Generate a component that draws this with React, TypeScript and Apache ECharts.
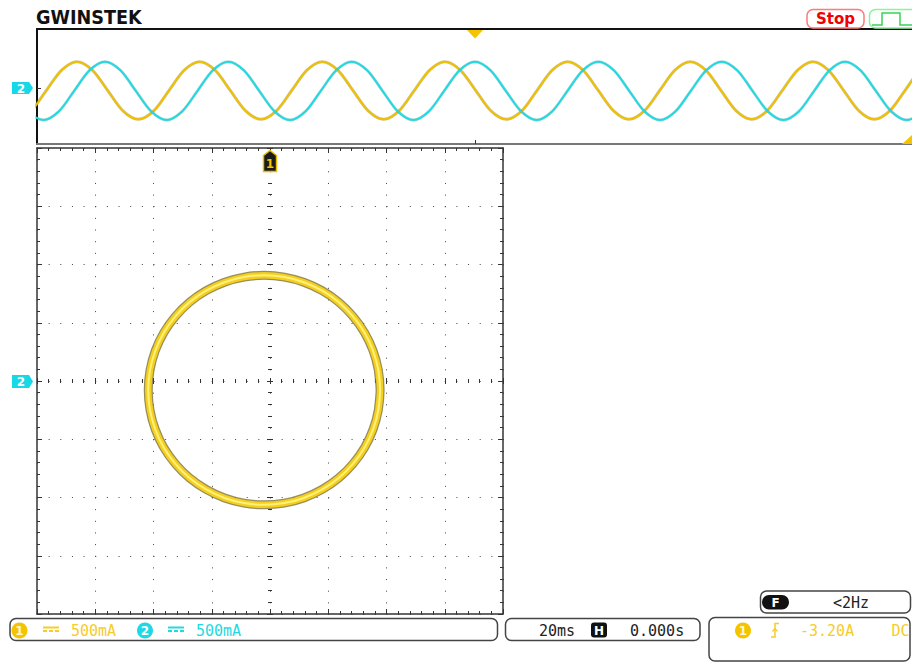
import React, { useEffect, useRef } from "react";
import * as echarts from "echarts";

// ---- Overview window (top strip): [position across window, level] ----
const ch1Overview: [number, number][] = [
  [-21.3, -31.3], [-6.0, -22.9], [9.3, -2.5], [24.7, 17.9], [40.0, 26.3], [55.3, 17.9], [70.7, -2.5], [86.0, -22.9],
  [101.3, -31.3], [116.7, -22.9], [132.0, -2.5], [147.3, 17.9], [162.7, 26.3], [178.0, 17.9], [193.3, -2.5], [208.7, -22.9],
  [224.0, -31.3], [239.3, -22.9], [254.7, -2.5], [270.0, 17.9], [285.3, 26.3], [300.7, 17.9], [316.0, -2.5], [331.3, -22.9],
  [346.7, -31.3], [362.0, -22.9], [377.3, -2.5], [392.7, 17.9], [408.0, 26.3], [423.3, 17.9], [438.7, -2.5], [454.0, -22.9],
  [469.3, -31.3], [484.7, -22.9], [500.0, -2.5], [515.3, 17.9], [530.7, 26.3], [546.0, 17.9], [561.3, -2.5], [576.7, -22.9],
  [592.0, -31.3], [607.3, -22.9], [622.7, -2.5], [638.0, 17.9], [653.3, 26.3], [668.7, 17.9], [684.0, -2.5], [699.3, -22.9],
  [714.7, -31.3], [730.0, -22.9], [745.3, -2.5], [760.7, 17.9], [776.0, 26.3], [791.3, 17.9], [806.7, -2.5], [822.0, -22.9],
  [837.3, -31.3], [852.7, -22.9], [868.0, -2.5], [883.3, 17.9], [898.7, 26.3],
];
const ch2Overview: [number, number][] = [
  [-55.3, 26.3], [-39.9, 17.75], [-24.5, -2.85], [-9.1, -23.45], [6.3, -32], [21.8, -23.45], [37.2, -2.85], [52.6, 17.75],
  [68.0, 26.3], [83.4, 17.75], [98.8, -2.85], [114.3, -23.45], [129.7, -32], [145.1, -23.45], [160.5, -2.85], [175.9, 17.75],
  [191.3, 26.3], [206.8, 17.75], [222.2, -2.85], [237.6, -23.45], [253.0, -32], [268.4, -23.45], [283.8, -2.85], [299.3, 17.75],
  [314.7, 26.3], [330.1, 17.75], [345.5, -2.85], [360.9, -23.45], [376.3, -32], [391.8, -23.45], [407.2, -2.85], [422.6, 17.75],
  [438.0, 26.3], [453.4, 17.75], [468.8, -2.85], [484.3, -23.45], [499.7, -32], [515.1, -23.45], [530.5, -2.85], [545.9, 17.75],
  [561.3, 26.3], [576.8, 17.75], [592.2, -2.85], [607.6, -23.45], [623.0, -32], [638.4, -23.45], [653.8, -2.85], [669.3, 17.75],
  [684.7, 26.3], [700.1, 17.75], [715.5, -2.85], [730.9, -23.45], [746.3, -32], [761.8, -23.45], [777.2, -2.85], [792.6, 17.75],
  [808.0, 26.3], [823.4, 17.75], [838.8, -2.85], [854.3, -23.45], [869.7, -32], [885.1, -23.45], [900.5, -2.85],
];

// ---- XY display: CH1 current (X, A) vs CH2 current (Y, A), traced around the loop ----
const xyCh1Amps = [
  0.93, 0.945, 0.93, 0.885, 0.812, 0.712, 0.59, 0.448, 0.29, 0.123, -0.05, -0.223, -0.39, -0.548, -0.69, -0.812,
  -0.912, -0.985, -1.03, -1.045, -1.03, -0.985, -0.912, -0.812, -0.69, -0.548, -0.39, -0.223, -0.05, 0.123, 0.29,
  0.448, 0.59, 0.712, 0.812, 0.885, 0.93, 0.945, 0.93,
];
const xyCh2Amps = [
  -0.249, -0.078, 0.093, 0.259, 0.415, 0.555, 0.677, 0.775, 0.848, 0.892, 0.907, 0.892, 0.848, 0.775, 0.677, 0.555,
  0.415, 0.259, 0.093, -0.078, -0.249, -0.415, -0.571, -0.711, -0.833, -0.931, -1.004, -1.048, -1.063, -1.048, -1.004,
  -0.931, -0.833, -0.711, -0.571, -0.415, -0.249, -0.078, 0.093,
];

// ---- status texts ----
const ch1Scale = "500mA";
const ch2Scale = "500mA";
const timeBase = "20ms";
const hPosition = "0.000s";
const trigLevel = "-3.20A";
const trigCoupling = "DC";
const freqText = "<2Hz";

const YELLOW = "#eec000";
const YELLOW_TXT = "#f7cc2a";
const CYAN = "#1fdae3";
const MONO = '"DejaVu Sans Mono", monospace';
const SANS = '"DejaVu Sans", sans-serif';

function txt(text: string, x: number, y: number, fill: string, font: string, align = "left", scaleX = 1) {
  return { type: "text", x, y, scaleX, z: 20, silent: true, style: { text, fill, font, align, verticalAlign: "middle" } };
}
function rrect(x: number, y: number, w: number, h: number, r: number, stroke: string, fill = "none", lw = 1.5) {
  return { type: "rect", z: 18, silent: true, shape: { x, y, width: w, height: h, r }, style: { fill, stroke, lineWidth: lw } };
}
function dot(cx: number, cy: number, r: number, fill: string) {
  return { type: "circle", z: 19, silent: true, shape: { cx, cy, r }, style: { fill } };
}
function poly(points: number[][], fill: string, stroke = "none", lw = 0) {
  return { type: "polygon", z: 19, silent: true, shape: { points }, style: { fill, stroke, lineWidth: lw } };
}
function pline(points: number[][], stroke: string, lw = 1.5) {
  return { type: "polyline", z: 19, silent: true, shape: { points }, style: { stroke, lineWidth: lw, fill: "none" } };
}
function dcSymbol(x: number, y: number, color: string) {
  return [
    { type: "rect", z: 19, silent: true, shape: { x, y, width: 16, height: 2 }, style: { fill: color } },
    { type: "rect", z: 19, silent: true, shape: { x, y: y + 3.5, width: 4, height: 2 }, style: { fill: color } },
    { type: "rect", z: 19, silent: true, shape: { x: x + 6, y: y + 3.5, width: 4, height: 2 }, style: { fill: color } },
    { type: "rect", z: 19, silent: true, shape: { x: x + 12, y: y + 3.5, width: 4, height: 2 }, style: { fill: color } },
  ];
}

const FRAME = "#353535";

function xyFrameAxis(position: string, withSplit: boolean) {
  return {
    gridIndex: 1, type: "value", min: -2, max: 2, interval: 0.5, position,
    axisLine: { show: true, onZero: false, lineStyle: { color: FRAME, width: 1.5 } },
    axisTick: { show: true, inside: true, length: 5, lineStyle: { color: FRAME } },
    minorTick: { show: true, splitNumber: 5, length: 3, lineStyle: { color: FRAME } },
    axisLabel: { show: false },
    splitLine: withSplit ? { show: true, lineStyle: { color: "#444", width: 1, type: [1, 10.65] } } : { show: false },
  };
}
function centerAxis(kind: "x" | "y", inside: boolean, otherIndex: number) {
  return {
    gridIndex: 1, type: "value", min: -2, max: 2, interval: 0.5,
    position: kind === "x" ? "bottom" : "left",
    axisLine: { show: true, onZero: true, onZeroAxisIndex: otherIndex, lineStyle: { color: "rgba(0,0,0,0)", width: 0 } },
    axisTick: { show: true, inside, length: 3, lineStyle: { color: "#333" } },
    minorTick: { show: true, splitNumber: 5, length: 2, lineStyle: { color: "#333" } },
    axisLabel: { show: false },
    splitLine: { show: false },
  };
}

export default function App() {
  const ref = useRef<HTMLDivElement>(null);
  useEffect(() => {
    if (!ref.current) return;
    const chart = echarts.init(ref.current, null, { renderer: "svg" });
    const xyData = xyCh1Amps.map((v, i) => [v, xyCh2Amps[i]]);

    const graphics: any[] = [
      // logo
      txt("GWINSTEK", 36, 17, "#111", `bold 19px ${SANS}`, "left", 0.93),
      // Stop
      rrect(807, 9.5, 57, 18.5, 6, "#ff7a7a", "#fff", 1.5),
      txt("Stop", 835.5, 18.5, "#f00000", `bold 15px ${SANS}`, "center"),
      // trigger status box
      rrect(869.5, 9.5, 52, 18.5, 6, "#8cf29c", "#fff", 1.5),
      pline([[872, 25], [882, 25], [882, 13], [900, 13], [900, 25], [912, 25]], "#39d457", 1.5),
      // overview markers
      poly([[467, 30], [483, 30], [475, 38.5]], "#f5c400"),
      poly([[902, 144], [912, 135], [912, 144]], "#f5c400"),
      poly([[12, 82], [29, 82], [33, 88], [29, 94], [12, 94]], "#17d8e6"),
      txt("2", 21, 88.5, "#fff", `bold 12px ${SANS}`, "center"),
      // XY markers
      poly([[12, 375], [29, 375], [33, 381.5], [29, 388], [12, 388]], "#17d8e6"),
      txt("2", 21, 382, "#fff", `bold 12px ${SANS}`, "center"),
      poly([[263.5, 155.5], [270, 150.5], [276.5, 155.5], [276.5, 171.5], [263.5, 171.5]], "#1b1b1b", "#e8bc00", 1.5),
      txt("1", 270, 163.5, "#f5c400", `bold 12px ${SANS}`, "center"),
      // bottom bar 1: channel scales
      rrect(10, 618.5, 487.5, 22, 6, "#444"),
      dot(19.5, 630.5, 8, "#f5c400"),
      txt("1", 19.5, 631, "#fff6cf", `bold 12px ${SANS}`, "center"),
      ...dcSymbol(43, 626.5, YELLOW_TXT),
      txt(ch1Scale, 71, 631, YELLOW_TXT, `15px ${MONO}`),
      dot(145, 630.5, 8, "#1fd8e6"),
      txt("2", 145, 631, "#ffffff", `bold 12px ${SANS}`, "center"),
      ...dcSymbol(168, 626.5, CYAN),
      txt(ch2Scale, 196, 631, CYAN, `15px ${MONO}`),
      // bottom bar 2: timebase
      rrect(505.5, 618.5, 194.5, 22, 6, "#444"),
      txt(timeBase, 539, 631, "#222", `15px ${MONO}`),
      rrect(591, 622.5, 16, 15, 3, "none", "#111", 0),
      txt("H", 599, 630.5, "#fff", `bold 12px ${SANS}`, "center"),
      txt(hPosition, 630, 631, "#222", `15px ${MONO}`),
      // frequency box
      rrect(760.5, 591, 150, 22, 6, "#444"),
      rrect(762, 595, 27, 14.5, 7, "none", "#111", 0),
      txt("F", 775.5, 602.5, "#fff", `bold 12px ${SANS}`, "center"),
      txt(freqText, 833, 603, "#222", `15px ${MONO}`),
      // trigger box
      rrect(709, 617.5, 201, 43.5, 6, "#444"),
      dot(743, 630.5, 8, "#f5c400"),
      txt("1", 743, 631, "#fff6cf", `bold 12px ${SANS}`, "center"),
      pline([[771, 637], [775, 637], [775, 623.5], [779, 623.5]], YELLOW_TXT, 1.5),
      pline([[772.5, 631.5], [775, 628.5], [777.5, 631.5]], YELLOW_TXT, 1.2),
      txt(trigLevel, 800, 631, YELLOW_TXT, `15px ${MONO}`),
      txt(trigCoupling, 891.5, 631, YELLOW_TXT, `15px ${MONO}`),
    ];

    const option: any = {
      animation: false,
      backgroundColor: "#ffffff",
      grid: [
        { left: 37, top: 29, width: 875, height: 115 },
        { left: 37, top: 148, width: 466, height: 466 },
      ],
      xAxis: [
        {
          gridIndex: 0, type: "value", min: 0, max: 875, position: "top",
          axisLine: { show: true, onZero: false, lineStyle: { color: "#111", width: 2 } },
          axisTick: { show: false }, axisLabel: { show: false }, splitLine: { show: false },
        },
        {
          gridIndex: 0, type: "value", min: 0, max: 875, position: "bottom",
          axisLine: { show: true, onZero: false, lineStyle: { color: "#777", width: 2 } },
          axisTick: { show: true, inside: true, length: 4, customValues: [438], lineStyle: { color: "#333" } },
          axisLabel: { show: false }, splitLine: { show: false },
        },
        xyFrameAxis("bottom", true),
        xyFrameAxis("top", false),
        centerAxis("x", true, 1),
        centerAxis("x", false, 1),
      ],
      yAxis: [
        {
          gridIndex: 0, type: "value", min: -56, max: 59, position: "left",
          axisLine: { show: true, onZero: false, lineStyle: { color: "#111", width: 2 } },
          axisTick: { show: true, inside: true, length: 4, customValues: [0], lineStyle: { color: "#333" } },
          axisLabel: { show: false }, splitLine: { show: false },
        },
        xyFrameAxis("left", true),
        xyFrameAxis("right", false),
        centerAxis("y", true, 2),
        centerAxis("y", false, 2),
      ],
      series: [
        {
          type: "line", xAxisIndex: 0, yAxisIndex: 0, data: ch1Overview, smooth: 0.3, showSymbol: false, silent: true, z: 3,
          lineStyle: { color: "#8a7418", width: 3, opacity: 0.4 },
        },
        {
          type: "line", xAxisIndex: 0, yAxisIndex: 0, data: ch1Overview, smooth: 0.3, showSymbol: false, silent: true, z: 4,
          lineStyle: { color: YELLOW, width: 2 },
        },
        {
          type: "line", xAxisIndex: 0, yAxisIndex: 0, data: ch2Overview, smooth: 0.3, showSymbol: false, silent: true, z: 5,
          lineStyle: { color: "#3a7070", width: 3, opacity: 0.28 },
        },
        {
          type: "line", xAxisIndex: 0, yAxisIndex: 0, data: ch2Overview, smooth: 0.3, showSymbol: false, silent: true, z: 6,
          lineStyle: { color: CYAN, width: 2 },
        },
        {
          type: "line", xAxisIndex: 2, yAxisIndex: 1, data: xyData, smooth: 0.25, showSymbol: false, silent: true, z: 7,
          lineStyle: { color: "#7d7034", width: 9, opacity: 0.8 },
        },
        {
          type: "line", xAxisIndex: 2, yAxisIndex: 1, data: xyData, smooth: 0.25, showSymbol: false, silent: true, z: 8,
          lineStyle: { color: "#f4cf1c", width: 6.5 },
        },
        {
          type: "line", xAxisIndex: 2, yAxisIndex: 1, data: xyData, smooth: 0.25, showSymbol: false, silent: true, z: 9,
          lineStyle: { color: "#fff07a", width: 2 },
        },
      ],
      graphic: { elements: graphics },
    };
    chart.setOption(option);
    return () => chart.dispose();
  }, []);

  return (
    <div
      ref={ref}
      style={{ position: "fixed", left: 0, top: 0, width: 912, height: 662, background: "#fff" }}
    />
  );
}
